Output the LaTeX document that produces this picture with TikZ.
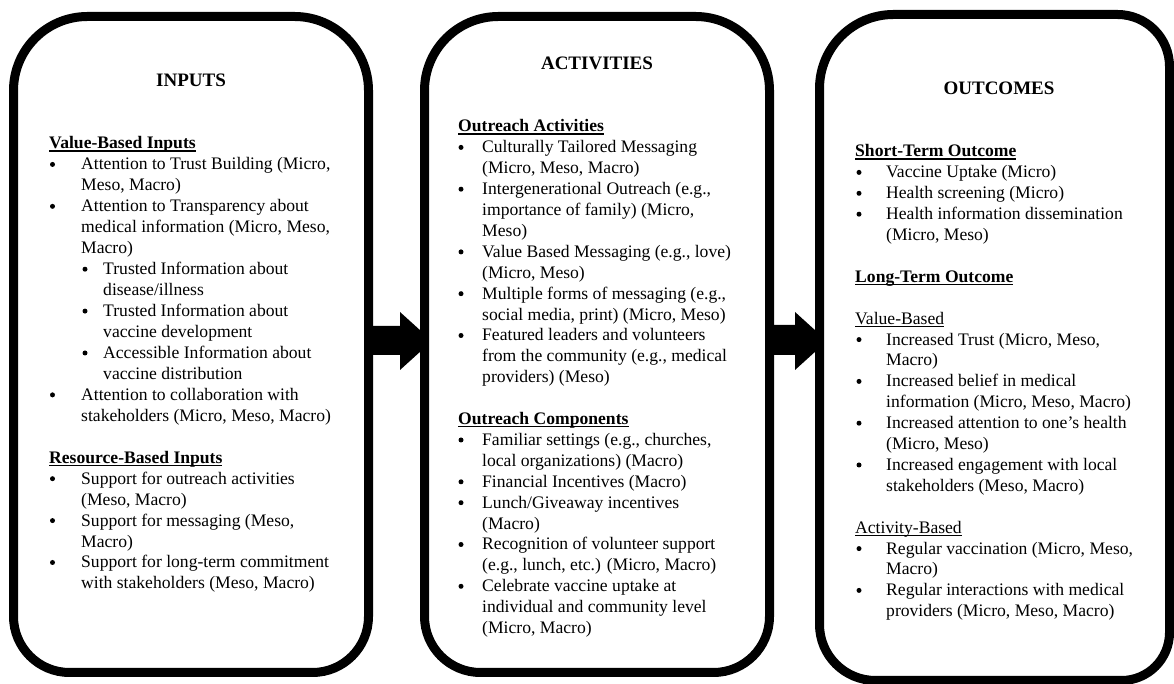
\documentclass[tikz,border=0pt]{standalone}
\usepackage{fontspec}
\setmainfont{Liberation Serif}
\newcounter{ln}
\newsavebox\ulbox
\newcommand\ulhd[1]{\sbox\ulbox{#1}\rlap{\rule[-2.6pt]{\wd\ulbox}{1.2pt}}\usebox\ulbox}
\tikzset{
  txt/.style={anchor=base west, inner sep=0pt, font=\fontsize{17.6}{21}\selectfont},
  ttl/.style={anchor=base, inner sep=0pt, font=\fontsize{19}{22}\selectfont\bfseries},
  frame/.style={line width=9pt, fill=white, draw=black},
  blockarrow/.style={fill=black},
  dot/.style={circle, fill=black, inner sep=0pt, minimum size=5pt},
}
% line k of a box: y (down) = \yz + k*\ys
\newcommand\Ln[3]{\stepcounter{ln}\node[txt] (ln\arabic{ln}) at (#1,{684-\yz-#2*\ys}) {#3};}
% bullet: dot centre x, text x, line k, text
\newcommand\Bu[4]{\stepcounter{ln}\node[dot] (bu\arabic{ln}) at (#1,{684-\yz-#3*\ys+5.5}) {};\Ln{#2}{#3}{#4}}
% rounded frame: name, x1, ytop, x2, ybot (down coords), r_tl, r_tr, r_br, r_bl
\newcommand\rbox[9]{%
  \draw[frame] (#2,{684-#5+#9}) -- (#2,{684-#3-#6})
    arc[start angle=180,end angle=90,radius=#6] -- ({#4-#7},{684-#3})
    arc[start angle=90,end angle=0,radius=#7] -- (#4,{684-#5+#8})
    arc[start angle=0,end angle=-90,radius=#8] -- ({#2+#9},{684-#5})
    arc[start angle=-90,end angle=-180,radius=#9] -- cycle;
  \coordinate (#1-w) at (#2,{684-341});
  \coordinate (#1-e) at (#4,{684-341});
}
\begin{document}
\begin{tikzpicture}[x=1pt,y=1pt]
\useasboundingbox (0,0) rectangle (1174,684);
% block arrows (drawn under the frames)
\fill[blockarrow] (366,358) -- (400,358) -- (400,372) -- (432,343) -- (400,314) -- (400,329) -- (366,329) -- cycle;
\fill[blockarrow] (767,359) -- (795,359) -- (795,372) -- (827,343) -- (795,314) -- (795,329) -- (767,329) -- cycle;
% frames
\rbox{inputs}{13.5}{16.5}{368.5}{672.5}{74}{74}{56}{56}
\rbox{activities}{424.5}{16.5}{769.5}{672.5}{74}{74}{56}{56}
\rbox{outcomes}{819.5}{14.5}{1169.5}{680.5}{74}{52}{48}{56}
% titles
\node[ttl] (tin) at (191,684-87) {INPUTS};
\node[ttl] (tact) at (597,684-70) {ACTIVITIES};
\node[ttl] (tout) at (999,684-95) {OUTCOMES};
% ---------- INPUTS ----------
\def\yz{149}\def\ys{20.95}
\Ln{49}{0}{\ulhd{\bfseries Value-Based Inputs}}
\Bu{52.5}{81}{1}{Attention to Trust Building (Micro,}
\Ln{81}{2}{Meso, Macro)}
\Bu{52.5}{81}{3}{Attention to Transparency about}
\Ln{81}{4}{medical information (Micro, Meso,}
\Ln{81}{5}{Macro)}
\Bu{85}{103}{6}{Trusted Information about}
\Ln{103}{7}{disease/illness}
\Bu{85}{103}{8}{Trusted Information about}
\Ln{103}{9}{vaccine development}
\Bu{85}{103}{10}{Accessible Information about}
\Ln{103}{11}{vaccine distribution}
\Bu{52.5}{81}{12}{Attention to collaboration with}
\Ln{81}{13}{stakeholders (Micro, Meso, Macro)}
\Ln{49}{15}{\ulhd{\bfseries Resource-Based Inputs}}
\Bu{52.5}{81}{16}{Support for outreach activities}
\Ln{81}{17}{(Meso, Macro)}
\Bu{52.5}{81}{18}{Support for messaging (Meso,}
\Ln{81}{19}{Macro)}
\Bu{52.5}{81}{20}{Support for long-term commitment}
\Ln{81}{21}{with stakeholders (Meso, Macro)}
% ---------- ACTIVITIES ----------
\def\yz{132}\def\ys{20.9}
\Ln{458}{0}{\ulhd{\bfseries Outreach Activities}}
\Bu{461}{482}{1}{Culturally Tailored Messaging}
\Ln{482}{2}{(Micro, Meso, Macro)}
\Bu{461}{482}{3}{Intergenerational Outreach (e.g.,}
\Ln{482}{4}{importance of family) (Micro,}
\Ln{482}{5}{Meso)}
\Bu{461}{482}{6}{Value Based Messaging (e.g., love)}
\Ln{482}{7}{(Micro, Meso)}
\Bu{461}{482}{8}{Multiple forms of messaging (e.g.,}
\Ln{482}{9}{social media, print) (Micro, Meso)}
\Bu{461}{482}{10}{Featured leaders and volunteers}
\Ln{482}{11}{from the community (e.g., medical}
\Ln{482}{12}{providers) (Meso)}
\Ln{458}{14}{\ulhd{\bfseries Outreach Components}}
\Bu{461}{482}{15}{Familiar settings (e.g., churches,}
\Ln{482}{16}{local organizations) (Macro)}
\Bu{461}{482}{17}{Financial Incentives (Macro)}
\Bu{461}{482}{18}{Lunch/Giveaway incentives}
\Ln{482}{19}{(Macro)}
\Bu{461}{482}{20}{Recognition of volunteer support}
\Ln{482}{21}{(e.g., lunch, etc.) (Micro, Macro)}
\Bu{461}{482}{22}{Celebrate vaccine uptake at}
\Ln{482}{23}{individual and community level}
\Ln{482}{24}{(Micro, Macro)}
% ---------- OUTCOMES ----------
\def\yz{157}\def\ys{20.9}
\Ln{855}{0}{\ulhd{\bfseries Short-Term Outcome}}
\Bu{859}{886}{1}{Vaccine Uptake (Micro)}
\Bu{859}{886}{2}{Health screening (Micro)}
\Bu{859}{886}{3}{Health information dissemination}
\Ln{886}{4}{(Micro, Meso)}
\Ln{855}{6}{\ulhd{\bfseries Long-Term Outcome}}
\Ln{855}{8}{\ulhd{Value-Based}}
\Bu{859}{886}{9}{Increased Trust (Micro, Meso,}
\Ln{886}{10}{Macro)}
\Bu{859}{886}{11}{Increased belief in medical}
\Ln{886}{12}{information (Micro, Meso, Macro)}
\Bu{859}{886}{13}{Increased attention to one’s health}
\Ln{886}{14}{(Micro, Meso)}
\Bu{859}{886}{15}{Increased engagement with local}
\Ln{886}{16}{stakeholders (Meso, Macro)}
\Ln{855}{18}{\ulhd{Activity-Based}}
\Bu{859}{886}{19}{Regular vaccination (Micro, Meso,}
\Ln{886}{20}{Macro)}
\Bu{859}{886}{21}{Regular interactions with medical}
\Ln{886}{22}{providers (Micro, Meso, Macro)}
\end{tikzpicture}
\end{document}
